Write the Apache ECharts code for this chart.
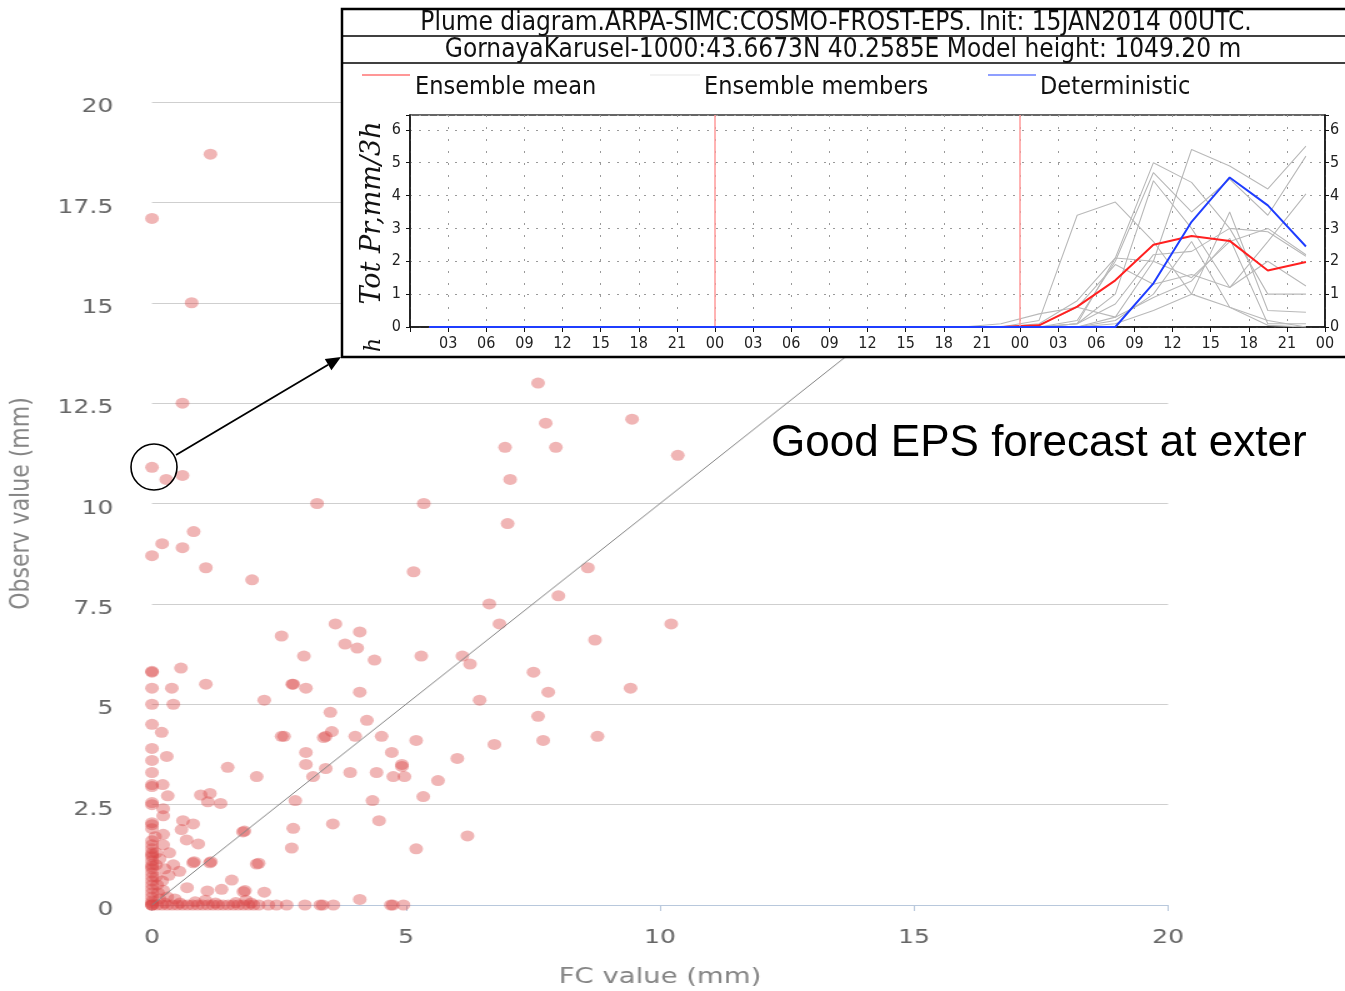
<!DOCTYPE html>
<html><head><meta charset="utf-8">
<script src="https://cdn.jsdelivr.net/npm/echarts/dist/echarts.min.js"></script>
<style>
html,body{margin:0;padding:0;background:#fff;overflow:hidden;width:1345px;height:991px;}
#main{position:absolute;left:0;top:0;width:1076px;height:991px;transform:scaleX(1.25);transform-origin:0 0;}
#inset{position:absolute;left:0;top:0;width:1345px;height:991px;}
</style></head><body>
<div id="main"></div><div id="inset"></div>
<script>
// ---------------- main scatter data: [FC value, Observed value] (mm) ----------------
const points = [
 [1.15,18.7],[0,17.1],[0.78,15.0],[0.6,12.5],[0,10.9],[0.28,10.6],[0.6,10.7],
 [7.6,13.0],[7.75,12.0],[9.45,12.1],[6.95,11.4],[7.95,11.4],[10.35,11.2],[7.05,10.6],
 [3.25,10.0],[5.35,10.0],[7.0,9.5],[0.82,9.3],[0.2,9.0],[0.6,8.9],[0,8.7],
 [1.06,8.4],[1.97,8.1],[5.15,8.3],[8.58,8.4],[8.0,7.7],[6.64,7.5],
 [3.61,7.0],[6.84,7.0],[10.22,7.0],[4.09,6.8],[2.55,6.7],[3.8,6.5],[4.04,6.4],[8.72,6.6],
 [2.99,6.2],[4.38,6.1],[5.3,6.2],[6.11,6.2],[6.26,6.0],[7.51,5.8],[9.42,5.4],[7.8,5.3],
 [0.57,5.9],[0,5.8],[0,5.82],[0,5.4],[0.39,5.4],[1.06,5.5],[2.76,5.5],[2.78,5.5],[3.03,5.4],
 [2.21,5.1],[4.09,5.3],[6.45,5.1],[0,5.0],[0.42,5.0],
 [7.6,4.7],[3.51,4.8],[4.23,4.6],[0,4.5],[0.19,4.3],
 [2.55,4.2],[2.6,4.2],[3.42,4.2],[3.38,4.17],[3.54,4.32],[4.52,4.2],[5.2,4.1],[4.0,4.2],[6.74,4.0],[7.7,4.1],[8.77,4.2],
 [0,3.9],[3.03,3.8],[4.72,3.8],[0.29,3.7],[0,3.6],[3.03,3.5],[3.42,3.4],[4.92,3.5],[6.01,3.65],[1.49,3.43],
 [0,3.3],[2.06,3.2],[3.17,3.2],[3.9,3.3],[4.42,3.3],[4.75,3.2],[4.97,3.2],[4.92,3.45],[5.63,3.1],
 [0,2.95],[0,3.0],[0.21,3.0],[0.31,2.72],[0,2.5],[0,2.55],
 [1.14,2.78],[0.96,2.74],[1.1,2.57],[1.35,2.53],[2.82,2.6],[4.34,2.6],[5.34,2.7],
 [0.22,2.4],[0.22,2.22],[0.61,2.1],[0.81,2.02],[0.58,1.88],[0,2.0],[0,2.05],[0,1.9],[0.06,1.7],
 [1.79,1.82],[1.82,1.84],[2.78,1.91],[3.56,2.02],[4.47,2.1],[6.21,1.72],
 [0.68,1.62],[0.91,1.52],[0.22,1.5],[0.22,1.76],[2.75,1.42],[5.2,1.4],[0.34,1.3],
 [0.81,1.05],[0.83,1.08],[1.14,1.05],[1.16,1.08],[2.06,1.02],[2.1,1.04],[0.42,1.0],[0.54,0.84],[0.33,0.74],
 [0.69,0.43],[1.57,0.62],[1.09,0.35],[1.37,0.39],[1.8,0.33],[1.83,0.36],[2.21,0.32],[4.09,0.14],[0.22,0.37],
 [0,1.6],[0,1.5],[0,1.4],[0,1.3],[0,1.25],[0,1.2],[0,1.1],[0,1.0],[0,0.95],[0,0.9],[0,0.8],[0,0.7],
 [0,0.6],[0,0.5],[0,0.4],[0,0.3],[0,0.2],[0,0.1],[0,0.05],[0,0],[0,0],[0,0],
 [0.08,1.3],[0.08,1.0],[0.08,0.7],[0.1,0.5],[0.12,0.3],[0.15,0.15],[0.2,0.6],[0.25,0.9],[0.3,0.2],[0.15,1.15],
 [0.1,0],[0.2,0],[0.3,0],[0.4,0],[0.5,0],[0.6,0],[0.7,0],[0.8,0],[0.9,0],[1.0,0],[1.1,0],
 [1.2,0],[1.3,0],[1.4,0],[1.5,0],[1.6,0],[1.7,0],[1.8,0],[1.9,0],[2.0,0],[2.1,0],
 [0.25,0.05],[0.55,0.05],[0.85,0.08],[1.25,0.05],[1.65,0.06],[1.95,0.05],[0.45,0.15],[1.05,0.12],[1.85,0.12],
 [2.29,0],[2.45,0],[2.65,0],[3.01,0],[3.31,0],[3.36,0],[3.57,0],[4.7,0],[4.74,0],[4.95,0]
];
const perfectLine = [[0,0],[20,20]];
const xTicks = {min:0, max:20, step:5};
const yTicks = {min:0, max:20, step:2.5};

// ---------------- inset plume data (3h accumulations, hours since init) ----------------
const hours = [1.5,4.5,7.5,10.5,13.5,16.5,19.5,22.5,25.5,28.5,31.5,34.5,37.5,40.5,43.5,46.5,49.5,52.5,55.5,58.5,61.5,64.5,67.5,70.5];
const ensMean = [0,0,0,0,0,0,0,0,0,0,0,0,0,0,0,0,0.05,0.62,1.42,2.5,2.77,2.62,1.72,1.98];
const deterministic = [0,0,0,0,0,0,0,0,0,0,0,0,0,0,0,0,0,0,0,1.33,3.2,4.55,3.7,2.45];
const members = [
 [0,0,0,0,0,0,0,0,0,0,0,0,0,0,0,0,0.2,3.4,3.8,2.6,1.0,0.6,0.05,0],
 [0,0,0,0,0,0,0,0,0,0,0,0,0,0,0,0,0,0,0.3,2.0,5.4,4.9,4.2,5.5],
 [0,0,0,0,0,0,0,0,0,0,0,0,0,0,0,0,0,0.1,2.1,5.0,4.4,3.0,2.9,2.15],
 [0,0,0,0,0,0,0,0,0,0,0,0,0,0,0,0,0,0.2,2.0,4.7,3.5,4.5,3.4,5.2],
 [0,0,0,0,0,0,0,0,0,0,0,0,0,0,0,0,0,0.1,1.0,4.45,3.0,1.2,2.0,1.25],
 [0,0,0,0,0,0,0,0,0,0,0,0,0,0,0,0,0.1,0.8,2.1,2.0,1.5,2.6,3.0,2.2],
 [0,0,0,0,0,0,0,0,0,0,0,0,0,0,0,0,0,0,0.1,0.5,1.0,3.5,0.5,0.45],
 [0,0,0,0,0,0,0,0,0,0,0,0,0,0,0,0,0,0.1,0.7,2.2,2.3,3.0,1.0,1.0],
 [0,0,0,0,0,0,0,0,0,0,0,0,0,0,0,0,0.05,0.6,1.9,1.3,1.6,1.2,2.6,4.05],
 [0,0,0,0,0,0,0,0,0,0,0,0,0,0,0,0.1,0.4,0.6,0.3,0.9,1.4,2.7,0.1,0.1],
 [0,0,0,0,0,0,0,0,0,0,0,0,0,0,0,0,0,0,0.2,1.0,2.6,0.6,0.2,0]
];
const dayBreaks = [24,48];
const title1 = 'Plume diagram.ARPA-SIMC:COSMO-FROST-EPS. Init: 15JAN2014 00UTC.';
const title2 = 'GornayaKarusel-1000:43.6673N 40.2585E Model height: 1049.20 m';
const legendNames = ['Ensemble mean','Ensemble members','Deterministic'];
const yNameInset = 'Tot Pr,mm/3h';
const note = 'Good EPS forecast at exter';

// ---------------- main chart (horizontally stretched like the reference) ----------------
const main = echarts.init(document.getElementById('main'));
const FONT = "'DejaVu Sans', sans-serif";
main.setOption({
  animation:false,
  backgroundColor:'#fff',
  grid:{left:121.6, right:141.6, top:102, bottom:86, containLabel:false, outerBoundsMode:'none'},
  xAxis:{type:'value', min:xTicks.min, max:xTicks.max, interval:xTicks.step,
    name:'FC value (mm)', nameLocation:'middle', nameGap:61,
    nameTextStyle:{color:'#858585', fontSize:22, fontFamily:FONT},
    axisLine:{lineStyle:{color:'#b8c8dc', width:1}},
    axisTick:{length:6, lineStyle:{color:'#b8c8dc'}},
    axisLabel:{color:'#666', fontSize:20, margin:23, fontFamily:FONT},
    splitLine:{show:false}},
  yAxis:{type:'value', min:yTicks.min, max:yTicks.max, interval:yTicks.step,
    name:'Observ value (mm)', nameLocation:'middle', nameGap:93,
    nameTextStyle:{color:'#858585', fontSize:22, fontFamily:FONT},
    axisLine:{show:false}, axisTick:{show:false},
    axisLabel:{color:'#666', fontSize:20, margin:31, fontFamily:FONT, verticalAlign:'top', lineHeight:10},
    splitLine:{lineStyle:{color:'#cfcfcf', width:1}}},
  series:[
    {type:'scatter', data:points, symbol:'circle', symbolSize:11,
     itemStyle:{color:'rgba(217,70,70,0.5)'}, z:2},
    {type:'line', data:perfectLine, symbol:'none', lineStyle:{color:'#858585', width:1}, z:3}
  ]
});

// ---------------- inset plume diagram + annotations ----------------
const inset = echarts.init(document.getElementById('inset'));
const CF = "'DejaVu Sans Condensed', 'DejaVu Sans', sans-serif";
function txt(x,y,text,font,align,extra,fill){
  return Object.assign({type:'text', x:x, y:y, z:50,
    style:{text:text, font:font, fill:fill||'#111', align:align, verticalAlign:'middle',
           textAlign:align, textVerticalAlign:'middle'}}, extra||{});
}
// arrow geometry
const aStart=[176,455], aTip=[341,357];
const dx=aTip[0]-aStart[0], dy=aTip[1]-aStart[1], L=Math.hypot(dx,dy), ux=dx/L, uy=dy/L;
const headL=15, headW=6.5;
const bx=aTip[0]-ux*headL, by=aTip[1]-uy*headL;

const graphic = [
  {type:'rect', z:-20, shape:{x:342,y:9,width:1012,height:348}, style:{fill:'#fff', stroke:'#000', lineWidth:2.5}},
  {type:'line', z:-19, shape:{x1:342,y1:36,x2:1345,y2:36}, style:{stroke:'#000', lineWidth:1.5}},
  {type:'line', z:-19, shape:{x1:342,y1:63,x2:1345,y2:63}, style:{stroke:'#000', lineWidth:1.5}},
  txt(836,23,title1,'26px '+CF,'center'),
  txt(843,50,title2,'26px '+CF,'center'),
  {type:'line', z:50, shape:{x1:362,y1:75,x2:410,y2:75}, style:{stroke:'#ff3030', lineWidth:1.2}},
  {type:'line', z:50, shape:{x1:650,y1:75,x2:700,y2:75}, style:{stroke:'#e6e6e6', lineWidth:1.2}},
  {type:'line', z:50, shape:{x1:988,y1:75,x2:1036,y2:75}, style:{stroke:'#2040ff', lineWidth:1.2}},
  txt(415,87,legendNames[0],'25px '+CF,'left'),
  txt(704,87,legendNames[1],'25px '+CF,'left'),
  txt(1040,87,legendNames[2],'25px '+CF,'left'),
  txt(373,213,yNameInset,"italic 27px 'DejaVu Serif', serif",'center',{rotation:Math.PI/2}),
  txt(374,345,'h',"italic 22px 'DejaVu Serif', serif",'center',{rotation:Math.PI/2}),
  {type:'circle', z:60, shape:{cx:154,cy:467,r:23}, style:{fill:'none', stroke:'#000', lineWidth:1.6}},
  {type:'line', z:60, shape:{x1:aStart[0],y1:aStart[1],x2:bx,y2:by}, style:{stroke:'#000', lineWidth:1.8}},
  {type:'polygon', z:60, shape:{points:[aTip,[bx-uy*headW,by+ux*headW],[bx+uy*headW,by-ux*headW]]}, style:{fill:'#000'}},
  txt(771,444,note,"44px 'Liberation Sans', Arial, sans-serif",'left',null,'#000')
];

const pad2 = v => { const h = v % 24; return (h<10?'0':'') + h; };
const series = [];
members.forEach((m,i)=>{
  series.push({type:'line', name:'member'+(i+1), data:hours.map((h,k)=>[h,m[k]]), symbol:'none',
    lineStyle:{color:'#b9b9b9', width:1.1}, z:2,
    markLine: i===0 ? {silent:true, symbol:'none', label:{show:false},
      lineStyle:{color:'#ff9a9a', width:1.5, type:'solid'},
      data: dayBreaks.map(d=>({xAxis:d}))} : undefined});
});
series.push({type:'line', name:legendNames[0], data:hours.map((h,k)=>[h,ensMean[k]]), symbol:'none',
  lineStyle:{color:'#ff2020', width:2}, z:4});
series.push({type:'line', name:legendNames[2], data:hours.map((h,k)=>[h,deterministic[k]]), symbol:'none',
  lineStyle:{color:'#1f3dff', width:2}, z:5});

const yLabelFmt = v => Number.isInteger(v) ? String(v) : '';
inset.setOption({
  animation:false,
  backgroundColor:'transparent',
  graphic:graphic,
  grid:{left:410, right:20, top:115, height:212, show:true, borderColor:'#333', borderWidth:1.5,
        backgroundColor:'transparent', containLabel:false, outerBoundsMode:'none'},
  xAxis:{type:'value', min:0, max:72, interval:3,
    axisLine:{lineStyle:{color:'#111', width:1.5}},
    axisTick:{length:5, lineStyle:{color:'#111'}},
    axisLabel:{color:'#222', fontSize:16, fontFamily:CF, margin:9, formatter:v=> v===0 ? '' : pad2(v)},
    splitLine:{show:true, lineStyle:{color:'#9a9a9a', type:[2,10], width:1}}},
  yAxis:[
    {type:'value', min:0, max:6.45, interval:1, position:'left',
     axisLine:{show:true, lineStyle:{color:'#111', width:1.5}},
     axisTick:{show:true, length:4, lineStyle:{color:'#111'}},
     axisLabel:{color:'#222', fontSize:16, fontFamily:CF, margin:9, formatter:yLabelFmt},
     splitLine:{show:true, lineStyle:{color:'#9a9a9a', type:[2,7], width:1}}},
    {type:'value', min:0, max:6.45, interval:1, position:'right',
     axisLine:{show:true, lineStyle:{color:'#111', width:1.5}},
     axisTick:{show:true, length:4, lineStyle:{color:'#111'}},
     axisLabel:{color:'#222', fontSize:16, fontFamily:CF, margin:5, formatter:yLabelFmt},
     splitLine:{show:false}}
  ],
  series:series
});
</script>
</body></html>
